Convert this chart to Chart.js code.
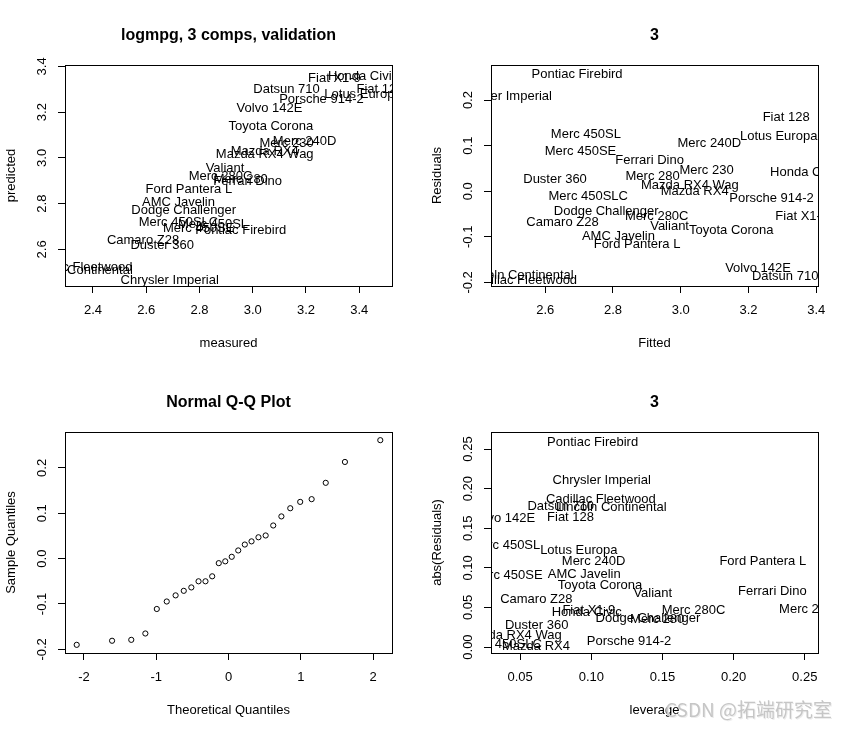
<!DOCTYPE html>
<html>
<head>
<meta charset="utf-8">
<script src="https://cdn.jsdelivr.net/npm/chart.js@4.4.1/dist/chart.umd.min.js"></script>
<style>
html,body{margin:0;padding:0;background:#fff;}
#wrap{position:relative;width:852px;height:735px;overflow:hidden;background:#fff;}
.cell{position:absolute;width:426px;}
canvas{display:block;}
#wm{position:absolute;left:665px;top:697px;font-family:"Noto Sans CJK SC","Liberation Sans",sans-serif;font-size:19px;line-height:24px;color:#c6c6c6;white-space:nowrap;text-shadow:1px 1px 0 #ededed;}
</style>
</head>
<body>
<div id="wrap">
  <div class="cell" style="left:0;top:0;height:367px"><canvas id="c1" width="426" height="367"></canvas></div>
  <div class="cell" style="left:426px;top:0;height:367px"><canvas id="c2" width="426" height="367"></canvas></div>
  <div class="cell" style="left:0;top:367px;height:368px"><canvas id="c3" width="426" height="368"></canvas></div>
  <div class="cell" style="left:426px;top:367px;height:368px"><canvas id="c4" width="426" height="368"></canvas></div>
  <div id="wm">CSDN @拓端研究室</div>
</div>
<script>
// ---------------- data ----------------
const cars = ["Mazda RX4","Mazda RX4 Wag","Datsun 710","Valiant","Duster 360","Merc 240D","Merc 230","Merc 280","Merc 280C","Merc 450SE","Merc 450SL","Merc 450SLC","Cadillac Fleetwood","Lincoln Continental","Chrysler Imperial","Fiat 128","Honda Civic","Toyota Corona","Dodge Challenger","AMC Javelin","Camaro Z28","Pontiac Firebird","Fiat X1-9","Porsche 914-2","Lotus Europa","Ford Pantera L","Ferrari Dino","Volvo 142E"];
const measured = [3.045,3.045,3.127,2.896,2.660,3.195,3.127,2.955,2.879,2.797,2.851,2.721,2.342,2.342,2.688,3.478,3.414,3.068,2.741,2.721,2.588,2.955,3.307,3.258,3.414,2.760,2.981,3.063];
const predicted = [3.041,3.027,3.308,2.967,2.629,3.084,3.076,2.917,2.929,2.704,2.720,2.727,2.532,2.521,2.475,3.311,3.367,3.149,2.780,2.816,2.651,2.694,3.357,3.268,3.289,2.871,2.908,3.228];
const residuals = [0.004,0.018,-0.181,-0.071,0.031,0.111,0.051,0.038,-0.050,0.093,0.131,-0.006,-0.190,-0.179,0.213,0.167,0.047,-0.081,-0.039,-0.0945,-0.0635,0.261,-0.050,-0.010,0.125,-0.111,0.073,-0.165];
const absResiduals = [0.004,0.018,0.181,0.071,0.031,0.111,0.051,0.038,0.050,0.093,0.131,0.006,0.190,0.179,0.213,0.167,0.047,0.081,0.039,0.0945,0.0635,0.261,0.050,0.010,0.125,0.111,0.073,0.165];
const leverage = [0.0611,0.0448,0.0785,0.1432,0.0616,0.1016,0.2510,0.1463,0.1718,0.0406,0.0395,0.0373,0.1067,0.1141,0.1073,0.0854,0.0968,0.1061,0.1398,0.0950,0.0613,0.1009,0.0982,0.1265,0.0912,0.2205,0.2272,0.0374];
const qqTheoretical = [-2.1000,-1.6108,-1.3452,-1.1503,-0.9919,-0.8544,-0.7317,-0.6189,-0.5142,-0.4145,-0.3186,-0.2257,-0.1347,-0.0448,0.0448,0.1347,0.2257,0.3186,0.4145,0.5142,0.6189,0.7317,0.8544,0.9919,1.1503,1.3452,1.6108,2.1000];
const qqSample = [-0.190,-0.181,-0.179,-0.165,-0.111,-0.0945,-0.081,-0.071,-0.0635,-0.050,-0.050,-0.039,-0.010,-0.006,0.004,0.018,0.031,0.038,0.047,0.051,0.073,0.093,0.111,0.125,0.131,0.167,0.213,0.261];

// tick values
const p1XTicks = [2.4,2.6,2.8,3.0,3.2,3.4];
const p1YTicks = [2.6,2.8,3.0,3.2,3.4];
const p2XTicks = [2.6,2.8,3.0,3.2,3.4];
const p2YTicks = [-0.2,-0.1,0.0,0.1,0.2];
const p3XTicks = [-2,-1,0,1,2];
const p3YTicks = [-0.2,-0.1,0.0,0.1,0.2];
const p4XTicks = [0.05,0.10,0.15,0.20,0.25];
const p4YTicks = [0.00,0.05,0.10,0.15,0.20,0.25];

// ---------------- style / layout ----------------
const FONT = '"Liberation Sans", Arial, Helvetica, sans-serif';
Chart.defaults.font.family = FONT;
Chart.defaults.font.size = 13;
Chart.defaults.color = '#000';
const BOX = {left: 65, right: 392, top: 65, bottom: 286};
const TICKLEN = 7;

function widest(labels) {
  const c = document.createElement('canvas').getContext('2d');
  c.font = '13px ' + FONT;
  return Math.max.apply(null, labels.map(s => c.measureText(s).width));
}

const boxPlugin = {
  id: 'rbox',
  afterDraw(chart) {
    const {ctx, chartArea: ca} = chart;
    ctx.save();
    ctx.strokeStyle = '#000';
    ctx.lineWidth = 1;
    const x0 = Math.round(ca.left) + 0.5, y0 = Math.round(ca.top) + 0.5;
    const x1 = Math.round(ca.right) + 0.5, y1 = Math.round(ca.bottom) + 0.5;
    ctx.strokeRect(x0, y0, x1 - x0, y1 - y0);
    ctx.restore();
  }
};

const labelPlugin = {
  id: 'pointText',
  afterDatasetsDraw(chart) {
    const {ctx, chartArea: ca} = chart;
    chart.data.datasets.forEach((ds, i) => {
      if (!ds.pointText) return;
      const meta = chart.getDatasetMeta(i);
      ctx.save();
      ctx.beginPath();
      ctx.rect(ca.left, ca.top, ca.right - ca.left, ca.bottom - ca.top);
      ctx.clip();
      ctx.font = '13px ' + FONT;
      ctx.fillStyle = '#000';
      ctx.textAlign = 'center';
      ctx.textBaseline = 'middle';
      meta.data.forEach((el, j) => ctx.fillText(ds.pointText[j], el.x, el.y + 2.5));
      ctx.restore();
    });
  }
};

function xScale(H, min, max, ticks, dec, title) {
  return {
    type: 'linear', position: 'bottom', min, max, bounds: 'data',
    afterBuildTicks: s => { s.ticks = ticks.map(v => ({value: v})); },
    afterFit: s => { s.height = H - BOX.bottom; },
    ticks: { callback: v => Number(v).toFixed(dec), padding: 9.5, autoSkip: false, minRotation: 0, maxRotation: 0, color: '#000', font: {size: 13} },
    grid: { drawOnChartArea: false, drawTicks: true, tickLength: TICKLEN, color: '#000', lineWidth: 1 },
    border: { display: false },
    title: { display: true, text: title, color: '#000', font: {size: 13}, padding: {top: 0, bottom: H - 343 - 7.8} }
  };
}

function yScale(min, max, ticks, dec, title) {
  const labels = ticks.map(v => v.toFixed(dec));
  const pad = 22.7 - TICKLEN - widest(labels) / 2;
  return {
    type: 'linear', position: 'left', min, max, bounds: 'data',
    afterBuildTicks: s => { s.ticks = ticks.map(v => ({value: v})); },
    afterFit: s => { s.width = BOX.left; },
    ticks: { callback: v => Number(v).toFixed(dec), padding: pad, autoSkip: false, minRotation: 90, maxRotation: 90, crossAlign: 'center', color: '#000', font: {size: 13} },
    grid: { drawOnChartArea: false, drawTicks: true, tickLength: TICKLEN, color: '#000', lineWidth: 1 },
    border: { display: false },
    title: { display: true, text: title, color: '#000', font: {size: 13}, padding: {top: 3.5, bottom: 0} }
  };
}

function makeChart(id, H, title, dataset, xs, ys) {
  return new Chart(document.getElementById(id), {
    type: 'scatter',
    data: { datasets: [dataset] },
    options: {
      responsive: false, animation: false, devicePixelRatio: 1,
      layout: { padding: {left: 0, right: 426 - BOX.right, top: 0, bottom: 0} },
      plugins: {
        legend: {display: false}, tooltip: {enabled: false},
        title: { display: true, text: title, fullSize: false, color: '#000', font: {size: 16, weight: 'bold'}, padding: {top: 26, bottom: BOX.top - 26 - 19.2} }
      },
      scales: { x: xs, y: ys }
    },
    plugins: [labelPlugin, boxPlugin]
  });
}

function textDataset(xv, yv) {
  return {
    data: xv.map((x, i) => ({x: x, y: yv[i]})),
    pointText: cars,
    pointRadius: 0, pointHoverRadius: 0, showLine: false
  };
}

makeChart('c1', 367, 'logmpg, 3 comps, validation', textDataset(measured, predicted),
  xScale(367, 2.295, 3.523, p1XTicks, 1, 'measured'),
  yScale(2.440, 3.406, p1YTicks, 1, 'predicted'));

makeChart('c2', 367, '3', textDataset(predicted, residuals),
  xScale(367, 2.440, 3.405, p2XTicks, 1, 'Fitted'),
  yScale(-0.208, 0.277, p2YTicks, 1, 'Residuals'));

makeChart('c3', 368, 'Normal Q-Q Plot', {
    data: qqTheoretical.map((x, i) => ({x: x, y: qqSample[i]})),
    pointStyle: 'circle', pointRadius: 2.6, pointHoverRadius: 2.6,
    pointBorderColor: '#000', pointBackgroundColor: 'rgba(0,0,0,0)', pointBorderWidth: 1, showLine: false
  },
  xScale(368, -2.262, 2.262, p3XTicks, 0, 'Theoretical Quantiles'),
  yScale(-0.208, 0.279, p3YTicks, 1, 'Sample Quantiles'));

makeChart('c4', 368, '3', textDataset(leverage, absResiduals),
  xScale(368, 0.0295, 0.2593, p4XTicks, 2, 'leverage'),
  yScale(-0.0075, 0.2715, p4YTicks, 2, 'abs(Residuals)'));
</script>
</body>
</html>
